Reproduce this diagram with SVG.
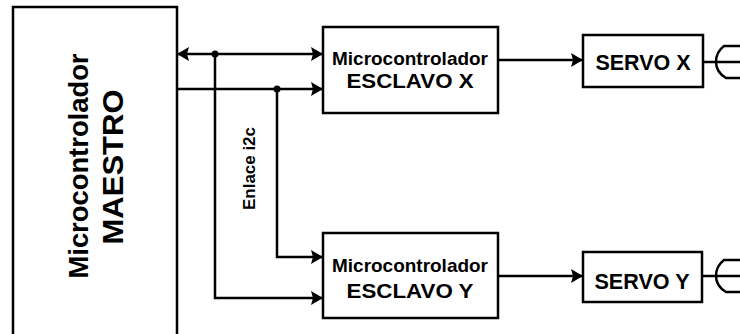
<svg xmlns="http://www.w3.org/2000/svg" width="740" height="334" viewBox="0 0 740 334">
<style>
.box{fill:#fff;stroke:#000;stroke-width:2.5}
.ln{fill:none;stroke:#000;stroke-width:2.5}
.t{font-family:"Liberation Sans",Arial,sans-serif;font-weight:bold;fill:#000}
</style>
<defs>
<marker id="arr" viewBox="0 0 12 14" refX="11" refY="7" markerWidth="12" markerHeight="14" markerUnits="userSpaceOnUse" orient="auto-start-reverse">
<path d="M0,0 L12,7 L0,14 L2,7 Z" fill="#000"/>
</marker>
</defs>
<rect width="740" height="334" fill="#fff"/>
<g id="maestro">
<rect class="box" x="13" y="7" width="164" height="340"/>
<text class="t" font-size="27" text-anchor="middle" transform="translate(88,166) rotate(-90)" textLength="225" lengthAdjust="spacingAndGlyphs">Microcontrolador</text>
<text class="t" font-size="29" text-anchor="middle" transform="translate(123,167) rotate(-90)" textLength="155" lengthAdjust="spacingAndGlyphs">MAESTRO</text>
</g>
<g id="esclavoX">
<rect class="box" x="323" y="27" width="175" height="86"/>
<text class="t" font-size="19" x="410" y="65" text-anchor="middle" textLength="156" lengthAdjust="spacingAndGlyphs">Microcontrolador</text>
<text class="t" font-size="20" x="410" y="88" text-anchor="middle" textLength="127" lengthAdjust="spacingAndGlyphs">ESCLAVO X</text>
</g>
<g id="esclavoY">
<rect class="box" x="323" y="233" width="175" height="85"/>
<text class="t" font-size="19" x="410" y="272" text-anchor="middle" textLength="156" lengthAdjust="spacingAndGlyphs">Microcontrolador</text>
<text class="t" font-size="20" x="410" y="298" text-anchor="middle" textLength="127" lengthAdjust="spacingAndGlyphs">ESCLAVO Y</text>
</g>
<g id="servoX">
<rect class="box" x="583" y="35" width="120" height="52"/>
<text class="t" font-size="22" x="643" y="70" text-anchor="middle" textLength="95" lengthAdjust="spacingAndGlyphs">SERVO X</text>
<path class="ln" d="M703,62 L740,62 M740,46 L724,46 Q716,52 716,62 Q716,72 726,78 L740,78"/>
</g>
<g id="servoY">
<rect class="box" x="583" y="252" width="119" height="50"/>
<text class="t" font-size="22" x="642" y="289" text-anchor="middle" textLength="95" lengthAdjust="spacingAndGlyphs">SERVO Y</text>
<path class="ln" d="M702,276 L740,276 M740,260 L724,260 Q716,266 716,276 Q716,286 726,292 L740,292"/>
</g>
<g id="enlace">
<text class="t" font-size="17" text-anchor="middle" transform="translate(255,168.5) rotate(-90)" textLength="83" lengthAdjust="spacingAndGlyphs">Enlace i2c</text>
</g>
<g id="connectors">
<path class="ln" d="M178,54 L322,54" marker-start="url(#arr)" marker-end="url(#arr)"/>
<path class="ln" d="M177,89 L322,89" marker-end="url(#arr)"/>
<path class="ln" d="M215,54 L215,298 L322,298" marker-end="url(#arr)"/>
<path class="ln" d="M277,89 L277,257 L322,257" marker-end="url(#arr)"/>
<path class="ln" d="M498,60 L582,60" marker-end="url(#arr)"/>
<path class="ln" d="M498,276 L582,276" marker-end="url(#arr)"/>
<circle cx="215" cy="54" r="3.5" fill="#000"/>
<circle cx="277" cy="89" r="3.5" fill="#000"/>
</g>
</svg>
